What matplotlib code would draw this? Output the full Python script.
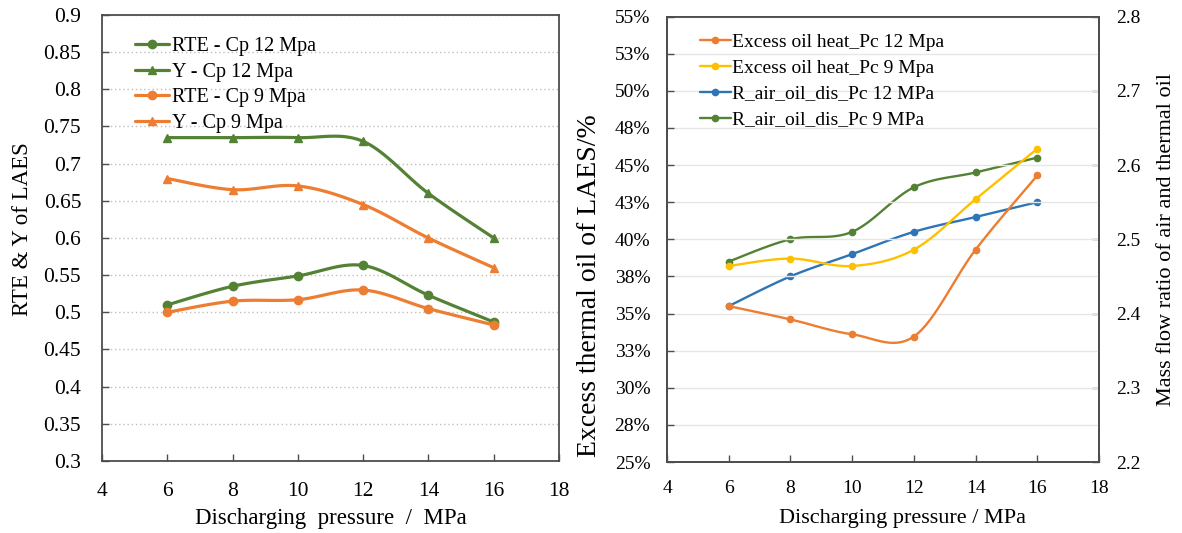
import numpy as np
import matplotlib
matplotlib.use('Agg')
from matplotlib import pyplot as plt
from matplotlib.ticker import FuncFormatter, MultipleLocator

# ---- data ----
pressure = [6, 8, 10, 12, 14, 16]

rte_cp12 = [0.510, 0.535, 0.549, 0.563, 0.523, 0.487]
y_cp12 = [0.735, 0.735, 0.735, 0.730, 0.660, 0.600]
rte_cp9 = [0.500, 0.515, 0.517, 0.530, 0.505, 0.483]
y_cp9 = [0.680, 0.665, 0.670, 0.645, 0.600, 0.560]

excess_pc12 = [35.5, 34.6, 33.6, 33.45, 39.3, 44.3]
excess_pc9 = [38.2, 38.7, 38.2, 39.3, 42.7, 46.1]
ratio_pc12 = [2.41, 2.45, 2.48, 2.51, 2.53, 2.55]
ratio_pc9 = [2.47, 2.50, 2.51, 2.57, 2.59, 2.61]

GREEN = '#548235'
ORANGE = '#ED7D31'
YELLOW = '#FFC000'
BLUE = '#2E75B6'
SPINE = '#4D4D4D'
NSEG = 24

plt.rcParams['font.family'] = ['Liberation Serif', 'DejaVu Serif']


def smooth(x, y, n=NSEG):
    # Excel-style smoothed line (Catmull-Rom Bezier through the points)
    p = np.column_stack([x, y]).astype(float)
    pts = np.vstack([p[0], p, p[-1]])
    t = np.linspace(0, 1, n, endpoint=False)[:, None]
    out = []
    for i in range(1, len(pts) - 2):
        p0, p1, p2, p3 = pts[i - 1], pts[i], pts[i + 1], pts[i + 2]
        c1 = p1 + (p2 - p0) / 6.0
        c2 = p2 - (p3 - p1) / 6.0
        seg = ((1 - t) ** 3) * p1 + 3 * ((1 - t) ** 2) * t * c1 + 3 * (1 - t) * t ** 2 * c2 + t ** 3 * p2
        out.append(seg)
    out.append(p[-1][None, :])
    out = np.vstack(out)
    return out[:, 0], out[:, 1]


def smooth_line(ax, x, y, color, marker, label, lw, ms):
    sx, sy = smooth(x, y)
    return ax.plot(sx, sy, color=color, lw=lw, marker=marker, ms=ms,
                   markevery=slice(0, None, NSEG), label=label,
                   solid_capstyle='round')[0]


def style_box(ax):
    for s in ax.spines.values():
        s.set_color(SPINE)
        s.set_linewidth(1.3)
    ax.tick_params(direction='in', length=5, width=1.0, color=SPINE)


fig = plt.figure(figsize=(11.82, 5.33), dpi=100)

# ---- left chart ----
ax1 = fig.add_axes([0.0863, 0.1351, 0.3866, 0.8368])
smooth_line(ax1, pressure, rte_cp12, GREEN, 'o', 'RTE - Cp 12 Mpa', 2.3, 6)
smooth_line(ax1, pressure, y_cp12, GREEN, '^', 'Y - Cp 12 Mpa', 2.3, 6)
smooth_line(ax1, pressure, rte_cp9, ORANGE, 'o', 'RTE - Cp 9 Mpa', 2.3, 6)
smooth_line(ax1, pressure, y_cp9, ORANGE, '^', 'Y - Cp 9 Mpa', 2.3, 6)
ax1.set_xlim(4, 18)
ax1.set_ylim(0.3, 0.9)
ax1.xaxis.set_major_locator(MultipleLocator(2))
ax1.yaxis.set_major_locator(MultipleLocator(0.05))
ax1.yaxis.set_major_formatter(FuncFormatter(lambda v, p: ('%.2f' % v).rstrip('0').rstrip('.')))
ax1.grid(axis='y', color='#BFBFBF', linestyle=(0, (1, 2)), linewidth=1.0)
ax1.set_axisbelow(True)
style_box(ax1)
ax1.tick_params(labelsize=15.5, pad=15)
ax1.tick_params(axis='x', pad=15)
ax1.set_xlabel('Discharging  pressure  /  MPa', fontsize=16.5, labelpad=5)
ax1.set_ylabel('RTE & Y of LAES', fontsize=16.5)
ax1.yaxis.set_label_coords(-0.150, 0.52)
ax1.legend(loc='upper left', bbox_to_anchor=(0.072, 0.950), frameon=False,
           fontsize=14.5, handlelength=1.7, handletextpad=0.15, labelspacing=0.32,
           borderpad=0, borderaxespad=0)

# ---- right chart ----
ax2 = fig.add_axes([0.5643, 0.1332, 0.3655, 0.8358])
ax3 = ax2.twinx()
h1 = smooth_line(ax2, pressure, excess_pc12, ORANGE, 'o', 'Excess oil heat_Pc 12 Mpa', 1.7, 4.5)
h2 = smooth_line(ax2, pressure, excess_pc9, YELLOW, 'o', 'Excess oil heat_Pc 9 Mpa', 1.7, 4.5)
h3 = smooth_line(ax3, pressure, ratio_pc12, BLUE, 'o', 'R_air_oil_dis_Pc 12 MPa', 1.7, 4.5)
h4 = smooth_line(ax3, pressure, ratio_pc9, GREEN, 'o', 'R_air_oil_dis_Pc 9 MPa', 1.7, 4.5)
ax2.set_xlim(4, 18)
ax2.set_ylim(25, 55)
ax3.set_ylim(2.2, 2.8)
ax2.xaxis.set_major_locator(MultipleLocator(2))
ax2.yaxis.set_major_locator(MultipleLocator(2.5))
ax2.yaxis.set_major_formatter(FuncFormatter(lambda v, p: '%d%%' % int(np.floor(v + 0.5))))
ax3.yaxis.set_major_locator(MultipleLocator(0.1))
ax3.yaxis.set_major_formatter(FuncFormatter(lambda v, p: ('%.1f' % v)))
ax2.grid(axis='y', color='#E6E6E6', linestyle='-', linewidth=1.0)
ax2.set_axisbelow(True)
style_box(ax2)
style_box(ax3)
ax2.tick_params(labelsize=14, pad=12)
ax2.tick_params(axis='x', pad=13)
ax3.tick_params(labelsize=14, pad=12)
ax2.set_xlabel('Discharging pressure / MPa', fontsize=16)
ax2.xaxis.set_label_coords(0.546, -0.105)
ax2.set_ylabel('Excess thermal oil of LAES/%', fontsize=20)
ax2.yaxis.set_label_coords(-0.150, 0.395)
ax3.set_ylabel('Mass flow ratio of air and thermal oil', fontsize=16)
ax3.yaxis.set_label_coords(1.135, 0.50)
ax2.set_zorder(ax3.get_zorder() + 1)
ax2.patch.set_visible(False)
ax2.legend([h1, h2, h3, h4], [h.get_label() for h in (h1, h2, h3, h4)],
           loc='upper left', bbox_to_anchor=(0.076, 0.962), frameon=False,
           fontsize=14, handlelength=1.6, handletextpad=0.05, labelspacing=0.42,
           borderpad=0, borderaxespad=0)

fig.savefig('out.png', dpi=100)
